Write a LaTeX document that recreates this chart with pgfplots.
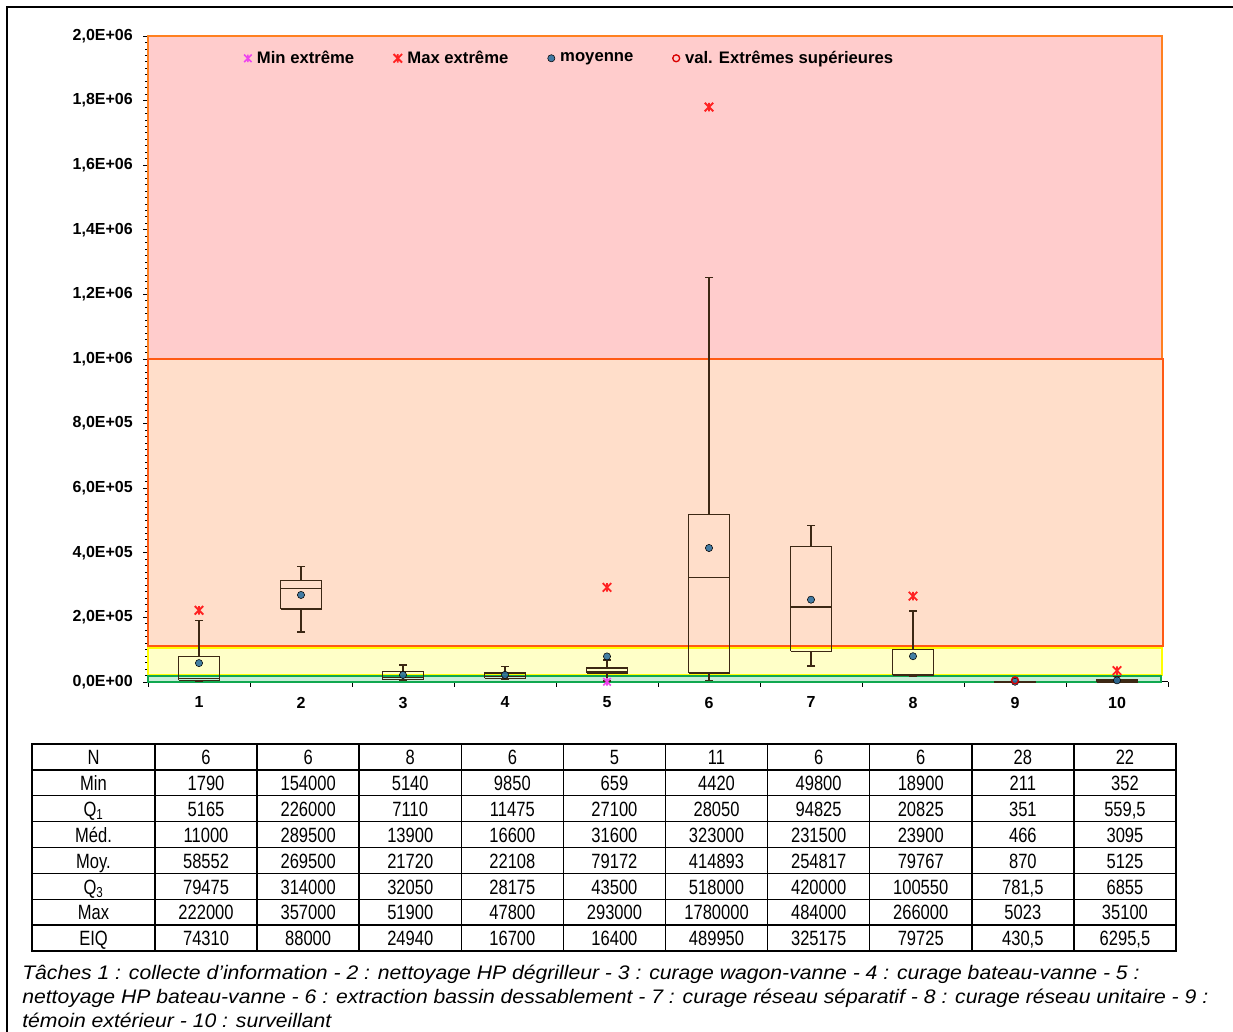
\documentclass[border=0pt]{standalone}
\usepackage{pgfplots}
\pgfplotsset{compat=1.18}
\usepackage{fontspec}
\setmainfont{Liberation Sans}
\newfontfamily\narrowfont[FakeStretch=0.8]{Liberation Sans}
\newfontfamily\capfam[FakeStretch=1.08]{Liberation Sans}
\definecolor{pinkfill}{HTML}{FFCCCC}
\definecolor{pinkline}{HTML}{FF8020}
\definecolor{orfill}{HTML}{FFDECA}
\definecolor{orline}{HTML}{FF5A14}
\definecolor{yelfill}{HTML}{FFFFC8}
\definecolor{yelline}{HTML}{FFFF00}
\definecolor{grnfill}{HTML}{C8EED8}
\definecolor{grnline}{HTML}{10A850}
\definecolor{boxc}{HTML}{3C2814}
\definecolor{meanc}{HTML}{2A6E9E}
\definecolor{maxc}{HTML}{FF2222}
\definecolor{minc}{HTML}{EE44EE}
\pgfdeclareplotmark{xstar}{%
  \pgfpathmoveto{\pgfqpoint{-\pgfplotmarksize}{-\pgfplotmarksize}}%
  \pgfpathlineto{\pgfqpoint{\pgfplotmarksize}{\pgfplotmarksize}}%
  \pgfpathmoveto{\pgfqpoint{-\pgfplotmarksize}{\pgfplotmarksize}}%
  \pgfpathlineto{\pgfqpoint{\pgfplotmarksize}{-\pgfplotmarksize}}%
  \pgfpathmoveto{\pgfqpoint{0pt}{-\pgfplotmarksize}}%
  \pgfpathlineto{\pgfqpoint{0pt}{\pgfplotmarksize}}%
  \pgfusepathqstroke}
\newcommand\ticfont{\bfseries\fontsize{12}{13.5}\selectfont}
\newcommand\legfont{\bfseries\fontsize{12.5}{14}\selectfont}
\newcommand\tabfont{\narrowfont\fontsize{15.5}{18}\selectfont}
\newcommand\capfont{\capfam\itshape\fontsize{14.7}{17}\selectfont}
\pgfplotsset{
  bp/.style={boxc, line width=1.15pt, solid, mark=none, forget plot},
  smallleg/.style={legend image code/.code={\draw[mark repeat=2,mark phase=2] plot coordinates {(0cm,0cm)(0.12cm,0cm)(0.24cm,0cm)};}}
}
% #1 left, #2 centre, #3 right, #4 lower whisker, #5 Q1, #6 median, #7 Q3, #8 upper whisker
\newcommand\bx[8]{%
\addplot[bp, unbounded coords=jump] coordinates {(#1,#5)(#3,#5)(#3,#7)(#1,#7)(#1,#5)(#2,nan)(#1,#6)(#3,#6)(#2,nan)(#2,#7)(#2,#8)(#2,nan)(#2,#5)(#2,#4)};
\addplot[bp, only marks, mark=-, mark size=3pt] coordinates {(#2,#4)(#2,#8)};
}
\begin{document}
\begin{tikzpicture}
\begin{scope}[x=0.75pt,y=0.75pt]
\useasboundingbox (0,0) rectangle (1233,1032);
\draw[line width=1.5pt] (7,0) -- (7,1025) -- (1233,1025);
\end{scope}
\begin{axis}[
  at={(111pt,262.5pt)}, anchor=south west,
  scale only axis, width=765pt, height=484.5pt,
  xmin=0.5, xmax=10.5, ymin=0, ymax=2000000,
  clip=false,
  axis x line*=bottom, axis y line*=left,
  x axis line style={black, line width=0.75pt},
  y axis line style={gray, line width=1.2pt},
  tick align=outside,
  major tick length=3.75pt, minor tick length=2.25pt,
  tick style={black, line width=0.6pt},
  minor y tick num=9,
  scaled y ticks=false,
  ytick={0,200000,400000,600000,800000,1000000,1200000,1400000,1600000,1800000,2000000},
  yticklabels={{0,0E+00},{2,0E+05},{4,0E+05},{6,0E+05},{8,0E+05},{1,0E+06},{1,2E+06},{1,4E+06},{1,6E+06},{1,8E+06},{2,0E+06}},
  yticklabel style={font=\ticfont, inner sep=0pt, xshift=-7.5pt},
  xtick={0.5,1.5,2.5,3.5,4.5,5.5,6.5,7.5,8.5,9.5,10.5},
  xticklabel={\mbox{}},
  extra x ticks={1,2,3,4,5,6,7,8,9,10},
  extra x tick labels={1,2,3,4,5,6,7,8,9,10},
  extra x tick style={major tick length=0pt, xticklabel style={font=\ticfont, inner sep=0pt, yshift=-11pt}},
  legend columns=4,
  legend style={at={(0.094,0.9655)}, anchor=west, draw=none, fill=none, inner sep=0pt,
    font=\legfont, /tikz/every even column/.append style={column sep=27.5pt},
    /tikz/every odd column/.append style={column sep=2pt}},
]
% bands
\draw[fill=pinkfill, draw=pinkline, line width=1.5pt] (axis cs:0.5,1000000) rectangle (axis cs:10.44,2000000);
\draw[fill=orfill, draw=orline, line width=1.5pt] (axis cs:0.5,110000) rectangle (axis cs:10.45,1000000);
\draw[fill=yelfill, draw=yelline, line width=1.5pt] (axis cs:0.5,21000) rectangle (axis cs:10.44,106000);
\draw[fill=grnfill, draw=grnline, line width=1.3pt] (axis cs:0.5,0) rectangle (axis cs:10.43,17500);
% boxplots
\bx{0.8}{1}{1.2}{1790}{5165}{11000}{79475}{190940}
\bx{1.8}{2}{2.2}{154000}{226000}{289500}{314000}{357000}
\bx{2.8}{3}{3.2}{5140}{7110}{13900}{32050}{51900}
\bx{3.8}{4}{4.2}{9850}{11475}{16600}{28175}{47800}
\bx{4.8}{5}{5.2}{2500}{27100}{31600}{43500}{68100}
\bx{5.8}{6}{6.2}{4420}{28050}{323000}{518000}{1252925}
\bx{6.8}{7}{7.2}{49800}{94825}{231500}{420000}{484000}
\bx{7.8}{8}{8.2}{18900}{20825}{23900}{100550}{220137}
\bx{8.8}{9}{9.2}{211}{351}{466}{781.5}{1427}
\bx{9.8}{10}{10.2}{352}{559.5}{3095}{6855}{16298}
% markers
\addplot[smallleg, only marks, mark=xstar, mark size=2.8pt, minc, mark options={line width=1.2pt}] coordinates {(5,659)};
\addlegendentry{Min extrême}
\addplot[smallleg, only marks, mark=xstar, mark size=3.2pt, maxc, mark options={line width=1.4pt}] coordinates {(1,222000) (5,293000) (6,1780000) (8,266000) (10,35100)};
\addlegendentry{Max extrême}
\addplot[smallleg, only marks, mark=*, mark size=2.7pt, mark options={draw=none, fill=meanc, fill opacity=0.88}] coordinates {(1,58552) (2,269500) (3,21720) (4,22108) (5,79172) (6,414893) (7,254817) (8,79767) (9,870) (10,5125)};
\addlegendentry{moyenne}
\addplot[smallleg, only marks, mark=o, mark size=2.6pt, mark options={draw=red!85!black, line width=1pt}] coordinates {(9,5023)};
\addlegendentry{val. Extrêmes supérieures}
\end{axis}
\begin{scope}[x=0.75pt,y=0.75pt]
% table
\foreach \k in {1,...,7} \draw[line width=1.1pt] (32,{288-25.875*\k}) -- (1176,{288-25.875*\k});
\foreach \j in {0,...,9} \draw[line width=1.1pt] ({155+102.1*\j},288) -- ({155+102.1*\j},81);
\draw[line width=1.8pt] (32,288) rectangle (1176,81);
\foreach \t [count=\i from 0] in {N,Min,Q\textsubscript{1},Méd.,Moy.,Q\textsubscript{3},Max,EIQ}
  \node[anchor=base, inner sep=0pt, font=\tabfont] at (93.5,{267.3-25.875*\i}) {\t};
\foreach \v [count=\j] in {6,6,8,6,5,11,6,6,28,22}
  \node[anchor=base, inner sep=0pt, font=\tabfont] at ({155+102.1*(\j-0.5)},267.3) {\v};
\foreach \v [count=\j] in {1790,154000,5140,9850,659,4420,49800,18900,211,352}
  \node[anchor=base, inner sep=0pt, font=\tabfont] at ({155+102.1*(\j-0.5)},241.4) {\v};
\foreach \v [count=\j] in {5165,226000,7110,11475,27100,28050,94825,20825,351,{559,5}}
  \node[anchor=base, inner sep=0pt, font=\tabfont] at ({155+102.1*(\j-0.5)},215.55) {\v};
\foreach \v [count=\j] in {11000,289500,13900,16600,31600,323000,231500,23900,466,3095}
  \node[anchor=base, inner sep=0pt, font=\tabfont] at ({155+102.1*(\j-0.5)},189.7) {\v};
\foreach \v [count=\j] in {58552,269500,21720,22108,79172,414893,254817,79767,870,5125}
  \node[anchor=base, inner sep=0pt, font=\tabfont] at ({155+102.1*(\j-0.5)},163.8) {\v};
\foreach \v [count=\j] in {79475,314000,32050,28175,43500,518000,420000,100550,{781,5},6855}
  \node[anchor=base, inner sep=0pt, font=\tabfont] at ({155+102.1*(\j-0.5)},137.9) {\v};
\foreach \v [count=\j] in {222000,357000,51900,47800,293000,1780000,484000,266000,5023,35100}
  \node[anchor=base, inner sep=0pt, font=\tabfont] at ({155+102.1*(\j-0.5)},112.05) {\v};
\foreach \v [count=\j] in {74310,88000,24940,16700,16400,489950,325175,79725,{430,5},{6295,5}}
  \node[anchor=base, inner sep=0pt, font=\tabfont] at ({155+102.1*(\j-0.5)},86.2) {\v};
% caption
\node[anchor=base west, inner sep=0pt, font=\capfont] at (22,52) {Tâches 1 : collecte d’information - 2 : nettoyage HP dégrilleur - 3 : curage wagon-vanne - 4 : curage bateau-vanne - 5 :};
\node[anchor=base west, inner sep=0pt, font=\capfont] at (22,28) {nettoyage HP bateau-vanne - 6 : extraction bassin dessablement - 7 : curage réseau séparatif - 8 : curage réseau unitaire - 9 :};
\node[anchor=base west, inner sep=0pt, font=\capfont] at (22,4.5) {témoin extérieur - 10 : surveillant};
\end{scope}
\end{tikzpicture}
\end{document}
